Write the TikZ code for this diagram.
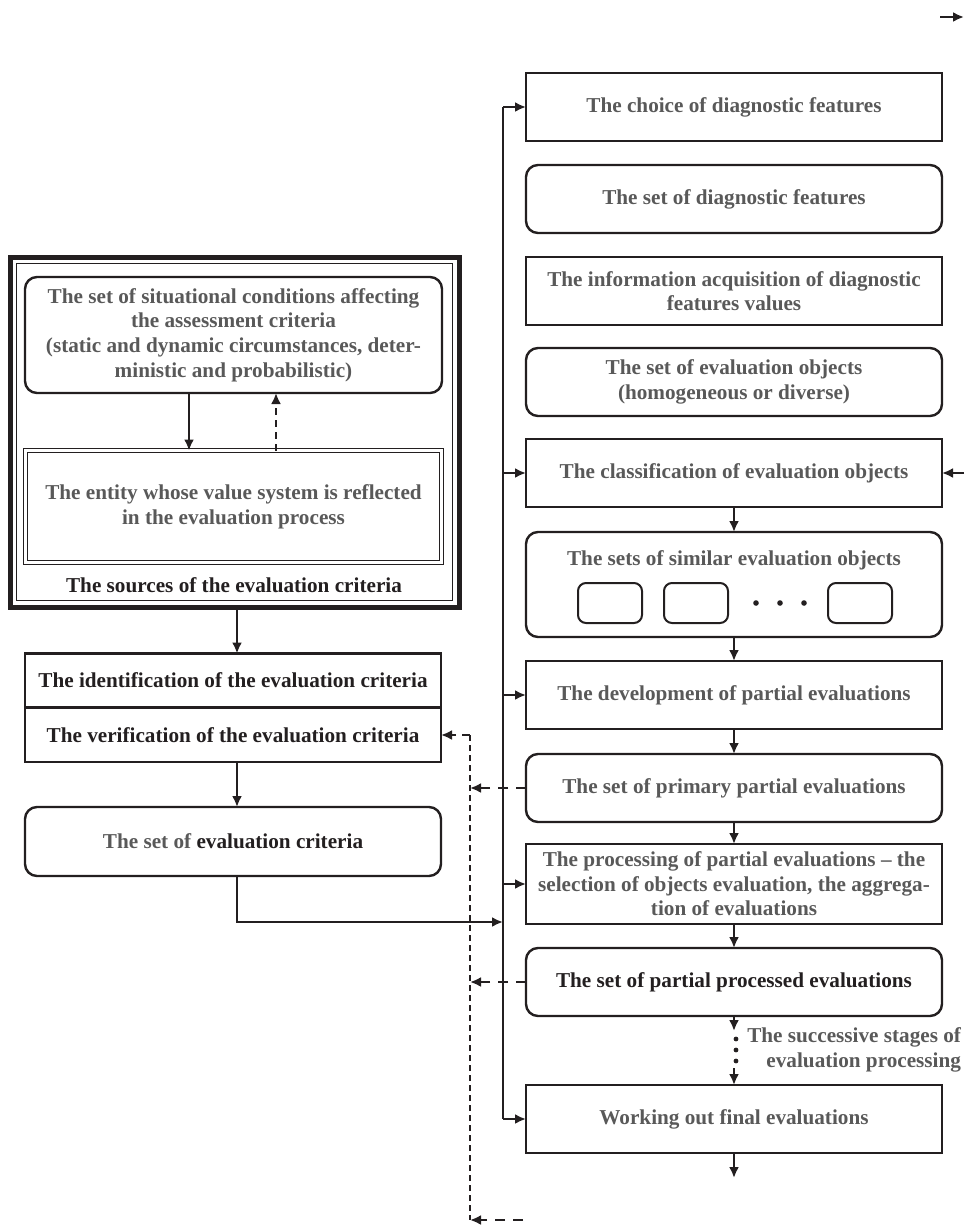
\documentclass[tikz,border=0pt]{standalone}
\usepackage{fontspec}
\setmainfont{Liberation Serif}
\usetikzlibrary{arrows.meta}
\definecolor{txtgray}{HTML}{595959}
\definecolor{ln}{HTML}{231F20}
\begin{document}
\begin{tikzpicture}[x=1pt,y=-1pt,
  every node/.style={font=\fontsize{21.2}{24.6}\selectfont\bfseries, text=txtgray, align=center, inner sep=0pt, outer sep=0pt},
  rbox/.style={draw=ln, line width=2.4pt, minimum width=416, minimum height=68},
  rrbox/.style={rbox, rounded corners=12pt},
  lbox/.style={draw=ln, line width=2.4pt, minimum width=416, minimum height=54},
  sbox/.style={draw=ln, line width=2pt, rounded corners=8pt, minimum width=64, minimum height=40},
  arr/.style={draw=ln, line width=2.4pt, -{Latex[length=11pt,width=10pt]}},
  darr/.style={draw=ln, line width=2.4pt, dash pattern=on 10pt off 8pt, -{Latex[length=11pt,width=10pt]}},
  dline/.style={draw=ln, line width=1.5pt, dash pattern=on 6pt off 4pt},
  plain/.style={draw=ln, line width=2.4pt},
  blk/.style={text=ln}
]
\useasboundingbox (0,0) rectangle (965,1226);

% ---------- left column ----------
\node[draw=ln, line width=5pt, minimum width=449, minimum height=350] (src) at (234.5,432) {};
\draw[ln, line width=1.4pt] ([shift={(6.5,6.5)}]src.north west) rectangle ([shift={(-6.5,-6.5)}]src.south east);

\node[rrbox, minimum width=417, minimum height=116] (sit) at (233.5,335)
  {The set of situational conditions affecting\\the assessment criteria\\(static and dynamic circumstances, deter-\\ministic and probabilistic)};
\node[draw=ln, line width=1.6pt, double, double distance=2.6pt, minimum width=416, minimum height=112] (ent) at (233.5,506.5)
  {The entity whose value system is reflected\\in the evaluation process};
\node[blk] (srclbl) at (234,585) {The sources of the evaluation criteria};

\draw[arr] ([xshift=-44.5]sit.south) -- ([xshift=-44.5]sit.south |- ent.north);
\draw[darr, dash pattern=on 7pt off 5pt] ([xshift=42.5]sit.south |- ent.north) -- ([xshift=42.5]sit.south);

\node[lbox, blk] (ident) at (233,680.5) {The identification of the evaluation criteria};
\node[lbox, blk, minimum height=54] (verif) at (233,735) {The verification of the evaluation criteria};
\node[rrbox, minimum width=416, minimum height=69] (setcrit) at (233,841.5) {The set of \textcolor{ln}{evaluation criteria}};

\draw[arr] ([xshift=2.5]src.south) -- ([xshift=4]ident.north);
\draw[arr] ([xshift=4]verif.south) -- ([xshift=4]setcrit.north);

% ---------- right column ----------
\node[rbox] (b1) at (734,107) {The choice of diagnostic features};
\node[rrbox] (b2) at (734,199) {The set of diagnostic features};
\node[rbox] (b3) at (734,291) {The information acquisition of diagnostic\\features values};
\node[rrbox] (b4) at (734,382) {The set of evaluation objects\\(homogeneous or diverse)};
\node[rbox] (b5) at (734,473) {The classification of evaluation objects};
\node[rrbox, minimum height=105] (b6) at (734,584.5) {};
\node (b6lbl) at (734,560) {The sets of similar evaluation objects};
\node[sbox] (s1) at (610,603) {};
\node[sbox] (s2) at (696,603) {};
\node[sbox] (s3) at (860,603) {};
\fill[ln] (756,603) circle (2.8);
\fill[ln] (780,603) circle (2.8);
\fill[ln] (804,603) circle (2.8);
\node[rbox] (b7) at (734,695) {The development of partial evaluations};
\node[rrbox] (b8) at (734,788) {The set of primary partial evaluations};
\node[rbox, minimum height=80] (b9) at (734,884) {The processing of partial evaluations -- the\\selection of objects evaluation, the aggrega-\\tion of evaluations};
\node[rrbox, blk] (b10) at (734,982) {The set of partial processed evaluations};
\node[rbox] (b11) at (734,1119) {Working out final evaluations};
\node[anchor=east, align=right] (succ) at (961,1050) {The successive stages of\\evaluation processing};

\draw[arr] (b5.south) -- (b6.north);
\draw[arr] (b6.south) -- (b7.north);
\draw[arr] (b7.south) -- (b8.north);
\draw[arr] (b8.south) -- (b9.north);
\draw[arr] (b9.south) -- (b10.north);
\coordinate (dA) at (734,1031);
\coordinate (dB) at (734,1068);
\draw[arr] (b10.south) -- (dA);
\fill[ln] (736,1039) circle (2.4);
\fill[ln] (736,1050) circle (2.4);
\fill[ln] (736,1061) circle (2.4);
\draw[arr] (dB) -- (b11.north);
\coordinate (endB) at (734,1178);
\draw[arr] (b11.south) -- (endB);

% spine
\coordinate (spTop) at (503,107);
\coordinate (spBot) at (503,1119);
\draw[plain] (spTop) -- (spBot);
\draw[arr] (spTop) -- (b1.west);
\draw[arr] (b5.west -| spTop) -- (b5.west);
\draw[arr] (b7.west -| spTop) -- (b7.west);
\draw[arr] (b9.west -| spTop) -- (b9.west);
\draw[arr] (spBot) -- (b11.west);
\coordinate (jn) at (503,922);
\draw[arr] ([xshift=4]setcrit.south) |- (jn);

% right side arrows
\coordinate (rin) at (964,473);
\draw[arr] (rin) -- (b5.east);
\coordinate (tra) at (940,17);
\coordinate (trb) at (964,17);
\draw[arr] (tra) -- (trb);

% dashed feedback
\coordinate (dtop) at (470,735);
\coordinate (dbot) at (470,1220);
\coordinate (dbotR) at (523,1220);
\draw[dline] (dtop) -- (dbot);
\draw[darr, dash pattern=on 8pt off 6pt] (dtop) -- (verif.east);
\draw[darr] (b8.west) -- (b8.west -| dtop);
\draw[darr] (b10.west) -- (b10.west -| dtop);
\draw[darr] (dbotR) -- (dbot);
\end{tikzpicture}
\end{document}
